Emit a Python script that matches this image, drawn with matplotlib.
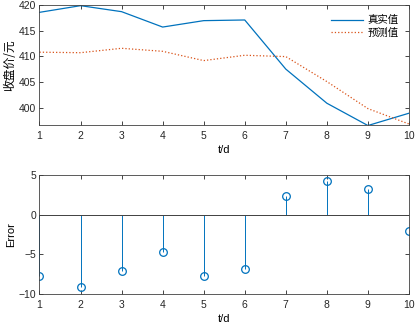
import numpy as np
import matplotlib
matplotlib.use('Agg')
import matplotlib.pyplot as plt

plt.rcParams['font.family'] = ['Liberation Sans', 'Noto Sans CJK SC', 'DejaVu Sans']

t = np.arange(1, 11)
real = [418.57, 419.87, 418.7, 415.7, 416.95, 417.08, 407.5, 400.85, 396.5, 398.9]
pred = [410.8, 410.7, 411.56, 410.97, 409.16, 410.2, 409.94, 405.07, 399.8, 396.8]
err = [-7.70, -9.12, -7.07, -4.65, -7.74, -6.86, 2.37, 4.25, 3.20, -2.02]

blue = '#0072BD'
orange = '#D95319'
axcol = '#404040'

fig = plt.figure(figsize=(4.17, 3.27), dpi=100)
ax1 = fig.add_axes([0.0947, 0.6177, 0.886, 0.367])
ax2 = fig.add_axes([0.0947, 0.100, 0.886, 0.3657])

ax1.plot(t, real, color=blue, lw=0.9, label='真实值')
ax1.plot(t, pred, color=orange, lw=0.9, ls=':', label='预测值')
ax1.set_xlim(1, 10)
ax1.set_ylim(396.6, 420)
ax1.set_yticks([400, 405, 410, 415, 420])
ax1.set_xticks(t)
ax1.set_xlabel('t/d', fontsize=8)
ax1.set_ylabel('收盘价/元', fontsize=8.5, family=['Noto Sans CJK SC'])
ax1.yaxis.set_label_coords(-0.063, 0.5)
ax1.xaxis.set_label_coords(0.5, -0.165)
leg = ax1.legend(loc='upper right', frameon=False,
                 prop={'family': 'Noto Sans CJK SC', 'size': 7.5},
                 handlelength=3.1, handletextpad=0.4, borderaxespad=0.6, labelspacing=0.2)

ml, sl, bl = ax2.stem(t, err, basefmt=' ')
plt.setp(sl, color=blue, lw=0.7)
plt.setp(ml, color=blue, marker='o', markerfacecolor='none', markersize=5.5, markeredgewidth=0.9)
ax2.axhline(0, color=axcol, lw=0.7)
ax2.set_xlim(1, 10)
ax2.set_ylim(-10, 5)
ax2.set_yticks([-10, -5, 0, 5])
ax2.set_xticks(t)
ax2.set_xlabel('t/d', fontsize=8)
ax2.set_ylabel('Error', fontsize=8)
ax2.yaxis.set_label_coords(-0.063, 0.5)
ax2.xaxis.set_label_coords(0.5, -0.165)

for ax in (ax1, ax2):
    ax.tick_params(direction='in', length=3, width=0.6, labelsize=7.5, colors='#262626',
                   top=True, right=True)
    ax.tick_params(axis='x', pad=4)
    ax.tick_params(axis='y', pad=2.5)
    for s in ax.spines.values():
        s.set_linewidth(0.6)
        s.set_color(axcol)

fig.savefig('out.png', dpi=100)
